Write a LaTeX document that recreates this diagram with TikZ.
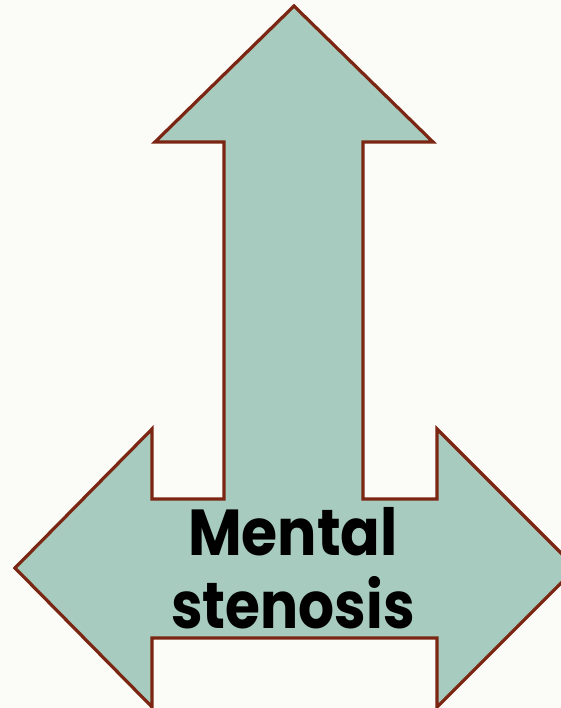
\documentclass[tikz,border=0pt]{standalone}
\usepackage{fontspec}
\setmainfont{Poppins}
\definecolor{arrowfill}{HTML}{A7CCBF}
\definecolor{arrowline}{HTML}{7B2612}
\definecolor{bg}{HTML}{FBFBF8}
\begin{document}
\begin{tikzpicture}[x=1pt,y=-1pt,
  arrowshape/.style={fill=arrowfill,draw=arrowline,line width=3.2pt,line join=miter},
  label/.style={font=\fontsize{65}{73}\selectfont\bfseries,text=black,inner sep=0pt}]
\useasboundingbox (0,0) rectangle (561,708);
\clip (0,0) rectangle (561,708);
\fill[bg] (0,0) rectangle (561,708);
\draw[arrowshape] (294,6) -- (433,142) -- (363,142) -- (363,499) -- (437,499) -- (437,429)
  -- (576,568) -- (437,707) -- (437,638) -- (152,638) -- (152,707) -- (15,568)
  -- (152,429) -- (152,499) -- (224,499) -- (224,142) -- (155,142) -- cycle;
\node[label,anchor=base] (m) at (293,555) {\scalebox{0.9}[1]{Mental}};
\node[label,anchor=base] (s) at (293,628) {\scalebox{0.87}[1]{stenosis}};
\end{tikzpicture}
\end{document}
